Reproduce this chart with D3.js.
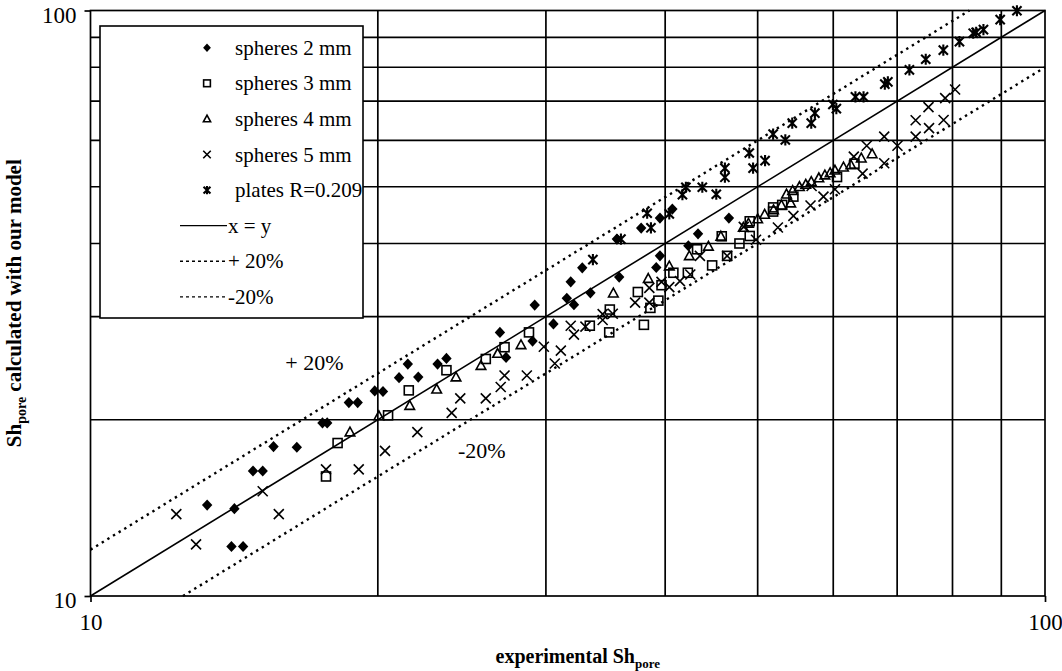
<!DOCTYPE html>
<html>
<head>
<meta charset="utf-8">
<script src="https://cdn.jsdelivr.net/npm/d3@7"></script>
<style>
body { margin: 0; background: #fff; }
svg text { font-family: "Liberation Serif", "Times New Roman", serif; fill: #000; }
</style>
</head>
<body>
<div class="chart"></div>
<script>
// [experimental, calculated] pairs
var spheres2 = [[13.25,14.3],[14.15,14.1],[14.05,12.15],[14.45,12.15],[14.8,16.35],[15.15,16.35],[15.55,18.0],[16.45,17.95],
  [17.5,19.75],[17.7,19.75],[18.65,21.4],[19.05,21.4],[19.85,22.4],[20.25,22.35],[21.05,23.6],[21.5,24.9],[22.05,23.65],
  [23.1,24.9],[23.6,25.45],[26.85,28.2],[27.25,25.55],[29.05,27.25],[29.2,31.4],[30.55,29.15],[31.55,32.25],[31.85,34.4],
  [32.1,31.45],[32.75,36.35],[33.4,32.95],[35.8,35.05],[35.6,40.7],[37.75,42.5],[39.15,36.4],[39.5,38.1],[39.5,44.2],
  [40.7,45.8],[42.3,39.65],[43.3,41.55],[46.65,44.2]];
var spheres3 = [[17.65,16.0],[18.15,18.25],[20.5,20.35],[21.55,22.45],[23.6,24.3],[25.95,25.4],[27.15,26.6],[28.8,28.2],
  [33.35,28.95],[34.95,28.2],[35.0,30.85],[37.45,33.05],[38.0,29.05],[38.6,31.05],[39.35,31.95],[39.65,33.95],[40.8,35.65],
  [42.25,35.65],[43.2,39.1],[44.8,36.7],[45.85,41.15],[46.45,38.1],[47.85,40.0],[49.05,41.2],[49.05,43.65],[51.9,46.1],
  [51.9,45.35],[53.05,46.55],[54.5,48.1],[60.55,51.95],[63.15,54.75]];
var spheres4 = [[18.7,19.05],[20.05,20.3],[21.6,21.15],[23.05,22.55],[24.15,23.65],[25.65,24.75],[26.7,25.95],[28.25,26.85],
  [35.3,32.9],[38.4,34.85],[40.4,36.6],[42.4,38.1],[44.4,39.55],[45.75,41.15],[48.3,42.6],[48.9,43.3],[50.0,44.05],
  [50.85,44.85],[51.95,45.65],[52.95,46.5],[53.6,48.55],[54.15,46.9],[54.4,49.25],[55.3,50.0],[56.15,50.45],[56.9,51.0],
  [57.95,51.75],[58.8,52.35],[59.55,52.8],[60.25,53.35],[61.5,54.0],[62.6,54.5],[64.2,55.95],[65.9,56.9]];
var spheres5 = [[12.3,13.8],[12.9,12.25],[15.15,15.1],[15.75,13.8],[17.65,16.45],[19.1,16.45],[20.35,17.7],[22.0,19.05],
  [23.9,20.55],[24.4,21.75],[25.95,21.75],[26.9,22.75],[27.15,23.8],[28.65,23.8],[29.85,26.65],[30.65,24.95],[31.1,26.25],
  [31.85,28.95],[32.1,27.95],[33.0,28.85],[34.4,30.3],[34.4,29.6],[35.25,30.35],[37.2,31.7],[38.5,31.7],[38.5,33.6],
  [39.65,34.4],[40.4,33.7],[41.45,34.5],[42.5,35.4],[43.5,38.1],[46.45,38.1],[48.35,42.7],[49.8,40.6],[52.5,42.6],
  [54.5,44.6],[56.8,46.45],[56.95,50.15],[58.6,48.1],[60.25,49.5],[63.05,56.3],[64.4,52.65],[65.05,58.75],[67.85,54.85],
  [67.85,60.9],[70.05,58.75],[73.2,60.9],[73.2,64.95],[75.6,62.95],[78.3,65.0],[75.5,68.4],[78.6,70.85],[80.5,73.3]];
var plates = [[33.6,37.55],[35.95,40.7],[38.3,45.05],[38.65,42.55],[40.4,44.95],[41.7,48.45],[42.05,49.9],[43.75,49.9],
  [45.25,48.55],[46.2,53.8],[46.2,51.9],[49.0,57.1],[49.45,53.8],[50.9,55.4],[51.9,61.5],[53.45,60.1],[54.35,64.2],
  [56.9,64.2],[57.4,66.8],[59.95,69.1],[60.45,68.0],[63.3,71.2],[64.55,71.2],[67.95,74.85],[68.45,75.5],[72.1,79.15],
  [75.0,82.55],[78.25,85.6],[81.35,88.5],[84.1,91.45],[84.7,91.75],[86.2,92.75],[89.75,96.45],[93.45,99.9]];

var lineEqual = [[10,10],[100,100]];
var linePlus20 = [[10,12],[83.33,100]];
var lineMinus20 = [[12.5,10],[100,80]];

var gridValues = [20,30,40,50,60,70,80,90];
var axisTicks = [10,100];
var legendLabels = ['spheres 2 mm','spheres 3 mm','spheres 4 mm','spheres 5 mm','plates R=0.209','x = y','+ 20%','-20%'];

var margin = {top: 10.5, right: 17, bottom: 75, left: 90.5};
var width = 1062 - margin.left - margin.right;
var height = 671 - margin.top - margin.bottom;

var svg = d3.select('.chart')
  .append('svg')
	.attr('width', 1062)
	.attr('height', 671)
  .append('g')
	.attr('transform', `translate(${margin.left}, ${margin.top})`);

var x = d3.scaleLog().domain([10, 100]).range([0, width]);
var y = d3.scaleLog().domain([10, 100]).range([height, 0]);

// grid
svg.selectAll('line.vgrid').data(gridValues).enter().append('line')
  .attr('x1', d => x(d)).attr('x2', d => x(d)).attr('y1', 0).attr('y2', height)
  .attr('stroke', '#000').attr('stroke-width', 1.7);
svg.selectAll('line.hgrid').data(gridValues).enter().append('line')
  .attr('y1', d => y(d)).attr('y2', d => y(d)).attr('x1', 0).attr('x2', width)
  .attr('stroke', '#000').attr('stroke-width', 1.7);
svg.append('rect').attr('width', width).attr('height', height)
  .attr('fill', 'none').attr('stroke', '#000').attr('stroke-width', 1.7);

// axes
var xAxis = svg.append('g').attr('transform', `translate(0, ${height})`)
  .call(d3.axisBottom(x).tickValues(axisTicks).tickFormat(d3.format('d')).tickSize(6).tickPadding(12));
var yAxis = svg.append('g')
  .call(d3.axisLeft(y).tickValues(axisTicks).tickFormat(d3.format('d')).tickSize(6).tickPadding(8));
[xAxis, yAxis].forEach(function(a) {
  a.select('.domain').remove();
  a.selectAll('line').attr('stroke', '#000').attr('stroke-width', 1.7);
  a.selectAll('text').attr('font-size', 23).attr('font-family', '"Liberation Serif", serif');
});
yAxis.selectAll('text').attr('dy', '0.5em');

// reference lines
var line = d3.line().x(d => x(d[0])).y(d => y(d[1]));
svg.append('path').datum(lineEqual).attr('d', line).attr('fill', 'none').attr('stroke', '#000').attr('stroke-width', 1.6);
[linePlus20, lineMinus20].forEach(function(l) {
  svg.append('path').datum(l).attr('d', line).attr('fill', 'none')
    .attr('stroke', '#000').attr('stroke-width', 2.4).attr('stroke-dasharray', '2.4,4.2');
});

// markers
function drawMarker(g, type, s) {
  s = s || 1;
  if (type === 'diamond')
    g.append('path').attr('d', `M0,${-5.6*s}L${5.2*s},0L0,${5.6*s}L${-5.2*s},0Z`).attr('fill', '#000');
  else if (type === 'square')
    g.append('rect').attr('x', -4.5*s).attr('y', -4.5*s).attr('width', 9*s).attr('height', 9*s)
      .attr('fill', 'none').attr('stroke', '#000').attr('stroke-width', 1.6);
  else if (type === 'triangle')
    g.append('path').attr('d', `M0,${-5*s}L${4.8*s},${3.8*s}L${-4.8*s},${3.8*s}Z`)
      .attr('fill', 'none').attr('stroke', '#000').attr('stroke-width', 1.6);
  else if (type === 'cross')
    g.append('path').attr('d', `M${-5*s},${-5*s}L${5*s},${5*s}M${-5*s},${5*s}L${5*s},${-5*s}`)
      .attr('stroke', '#000').attr('stroke-width', 1.6);
  else if (type === 'star')
    g.append('path').attr('d', `M${-4.6*s},${-4.6*s}L${4.6*s},${4.6*s}M${-4.6*s},${4.6*s}L${4.6*s},${-4.6*s}M0,${-5.6*s}L0,${5.6*s}`)
      .attr('stroke', '#000').attr('stroke-width', 2.1);
}

var series = [
  {data: spheres2, type: 'diamond'},
  {data: spheres3, type: 'square'},
  {data: spheres4, type: 'triangle'},
  {data: spheres5, type: 'cross'},
  {data: plates, type: 'star'}
];
series.forEach(function(s) {
  svg.append('g').selectAll('g').data(s.data).enter().append('g')
    .attr('transform', d => `translate(${x(d[0])}, ${y(d[1])})`)
    .each(function() { drawMarker(d3.select(this), s.type); });
});

// annotations on the band lines
svg.append('text').attr('x', x(16)).attr('y', y(24.3)).attr('font-size', 22).text('+ 20%');
svg.append('text').attr('x', x(24.27)).attr('y', y(17.2)).attr('font-size', 22).text('-20%');

// legend
var legend = svg.append('g').attr('transform', `translate(${100 - margin.left}, ${26 - margin.top})`);
legend.append('rect').attr('width', 263).attr('height', 292)
  .attr('fill', '#fff').attr('stroke', '#000').attr('stroke-width', 1.6);
legendLabels.forEach(function(lbl, i) {
  var row = legend.append('g').attr('transform', `translate(0, ${21.7 + i * 35.6})`);
  if (i < 5) {
    var m = row.append('g').attr('transform', 'translate(107, 0)');
    drawMarker(m, series[i].type, 0.75);
    row.append('text').attr('x', 135).attr('y', 7).attr('font-size', 21).text(lbl);
  } else {
    row.append('line').attr('x1', 80).attr('x2', 127).attr('y1', 0).attr('y2', 0)
      .attr('stroke', '#000').attr('stroke-width', i === 5 ? 1.3 : 1.4)
      .attr('stroke-dasharray', i === 5 ? null : '3,3');
    row.append('text').attr('x', 128).attr('y', 7).attr('font-size', 21).text(lbl);
  }
});

// axis titles
var xTitle = svg.append('text').attr('x', width / 2 + 10).attr('y', 652)
  .attr('text-anchor', 'middle').attr('font-size', 20).attr('font-weight', 'bold');
xTitle.append('tspan').text('experimental Sh');
xTitle.append('tspan').attr('dy', 5).attr('font-size', 13).text('pore');

var yTitle = svg.append('text')
  .attr('transform', `translate(${21 - margin.left}, ${height / 2}) rotate(-90)`)
  .attr('text-anchor', 'middle').attr('font-size', 21).attr('font-weight', 'bold');
yTitle.append('tspan').text('Sh');
yTitle.append('tspan').attr('dy', 5).attr('font-size', 14).text('pore');
yTitle.append('tspan').attr('dy', -5).text(' calculated with our model');
</script>
</body>
</html>
